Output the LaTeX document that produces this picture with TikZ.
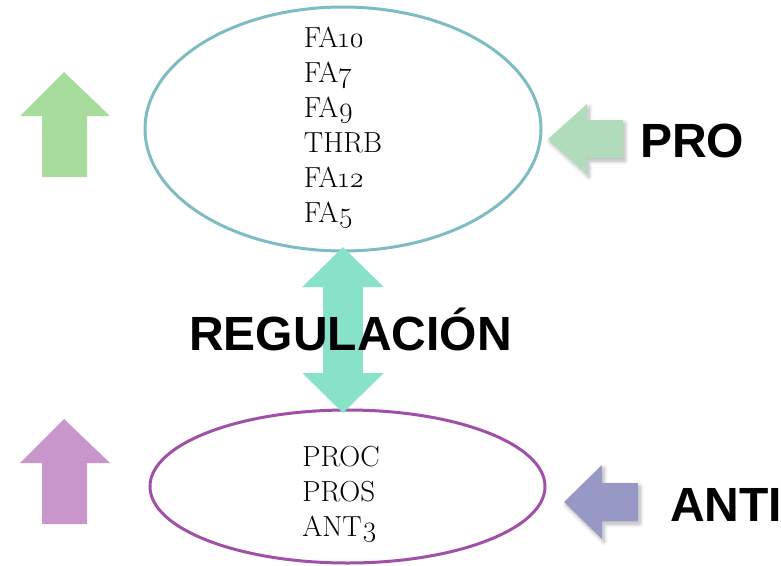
\documentclass[tikz,border=0pt]{standalone}
\usepackage{fontspec}
\setmainfont{Latin Modern Roman}[Numbers=OldStyle]
\newfontfamily\labelfont{Liberation Sans}[Scale=1.0]
\usetikzlibrary{arrows.meta,shadows.blur}

\definecolor{proline}{RGB}{125,188,194}
\definecolor{antiline}{RGB}{160,80,168}
\definecolor{regfill}{RGB}{136,226,200}
\definecolor{upgreen}{RGB}{168,220,156}
\definecolor{uppurple}{RGB}{200,150,202}
\definecolor{progreen}{RGB}{176,220,188}
\definecolor{antiblue}{RGB}{152,152,198}

\tikzset{
  oval/.style={line width=3pt},
  factors/.style={inner sep=0pt, align=left, font=\fontsize{29}{35}\selectfont},
  biglabel/.style={font=\labelfont\bfseries\fontsize{48}{54}\selectfont, inner sep=0pt, anchor=base west},
  sidearrow/.style={draw=none, blur shadow={shadow xshift=2pt, shadow yshift=-3pt,
    shadow blur steps=10, shadow blur radius=4pt, shadow opacity=30}},
  regtip/.tip={Triangle[width=79pt,length=40pt]}
}

\begin{document}
\begin{tikzpicture}[x=1pt,y=-1pt]
  \useasboundingbox (0,0) rectangle (781,565);

  % the two groups of factors
  \coordinate (proc) at (343,129);
  \coordinate (antic) at (347.5,486.5);
  \draw[oval, draw=proline] (proc) ellipse [x radius=198, y radius=122];
  \draw[oval, draw=antiline] (antic) ellipse [x radius=197.5, y radius=76.5];
  \node[factors] (protext) at (343,128) {FA10\\FA7\\FA9\\THRB\\FA12\\FA5};
  \node[factors] (antitext) at (341,494.5) {PROC\\PROS\\ANT3};

  % regulation between both groups
  \coordinate (regtop) at (343,247);
  \coordinate (regbot) at (343,413);
  \draw[regfill, line width=40pt, regtip-regtip] (regtop) -- (regbot);
  \node[biglabel, anchor=base] (reg) at (350.5,350) {REGULACIÓN};

  % rising activity markers
  \fill[upgreen] (64,72) -- (110,116) -- (87,116) -- (87,177) -- (42,177) -- (42,116) -- (20,116) -- cycle;
  \fill[uppurple] (64,419) -- (110,463) -- (87,463) -- (87,524) -- (42,524) -- (42,463) -- (20,463) -- cycle;

  % pro and anti inputs
  \fill[progreen, sidearrow] (548,139) -- (587,104) -- (587,120) -- (623,120) -- (623,158) -- (587,158) -- (587,174) -- cycle;
  \fill[antiblue, sidearrow] (564,502) -- (602,465) -- (602,483) -- (638,483) -- (638,521) -- (602,521) -- (602,539) -- cycle;

  \node[biglabel] (prolabel) at (640,157) {PRO};
  \node[biglabel] (antilabel) at (670,521) {ANTI};
\end{tikzpicture}
\end{document}
